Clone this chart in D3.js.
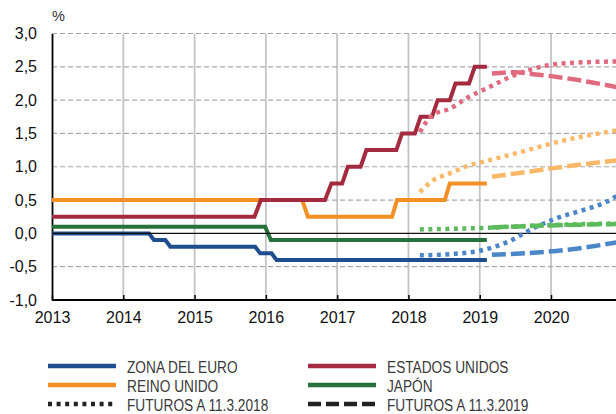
<!DOCTYPE html>
<html><head><meta charset="utf-8">
<script src="https://cdn.jsdelivr.net/npm/d3@7"></script>
<style>
html,body{margin:0;padding:0;background:#fff;}
svg{display:block;}
</style></head>
<body>
<svg id="c" width="616" height="414"></svg>
<script>
// ---- data (decimal years, %) ----
const xTicks = [2013, 2014, 2015, 2016, 2017, 2018, 2019, 2020];
const yTicks = [-1.0, -0.5, 0.0, 0.5, 1.0, 1.5, 2.0, 2.5, 3.0];

const zonaEuro = [[2013,0],[2014.36,0],[2014.43,-0.1],[2014.59,-0.1],[2014.66,-0.2],[2015.85,-0.2],[2015.92,-0.3],[2016.08,-0.3],[2016.15,-0.4],[2019.10,-0.4]];
const estadosUnidos = [[2013,0.25],[2015.84,0.25],[2015.93,0.5],[2016.83,0.5],[2016.92,0.75],[2017.07,0.75],[2017.15,1.0],[2017.33,1.0],[2017.41,1.25],[2017.83,1.25],[2017.91,1.5],[2018.09,1.5],[2018.17,1.75],[2018.33,1.75],[2018.41,2.0],[2018.58,2.0],[2018.66,2.25],[2018.85,2.25],[2018.93,2.5],[2019.10,2.5]];
const reinoUnido = [[2013,0.5],[2016.51,0.5],[2016.59,0.25],[2017.77,0.25],[2017.84,0.5],[2018.51,0.5],[2018.58,0.75],[2019.10,0.75]];
const japon = [[2013,0.1],[2015.99,0.1],[2016.07,-0.1],[2019.10,-0.1]];

const euroF18 = [[2018.16,-0.33],[2018.6,-0.31],[2019.0,-0.26],[2019.4,-0.125],[2019.75,0.075],[2020.07,0.225],[2020.45,0.35],[2020.78,0.475],[2020.95,0.58]];
const usF18 = [[2018.16,1.52],[2018.33,1.77],[2018.6,1.88],[2018.8,2.02],[2019.1,2.18],[2019.5,2.38],[2020.0,2.53],[2020.5,2.57],[2020.95,2.58]];
const ukF18 = [[2018.16,0.62],[2018.35,0.8],[2018.58,0.9],[2018.8,1.0],[2019.14,1.1],[2019.5,1.2],[2020.2,1.4],[2020.95,1.55]];
const jpF18 = [[2018.16,0.06],[2019.0,0.08],[2020.0,0.125],[2020.95,0.15]];

const euroF19 = [[2019.17,-0.32],[2019.75,-0.29],[2020.2,-0.25],[2020.95,-0.13]];
const usF19 = [[2019.17,2.40],[2019.5,2.42],[2019.75,2.39],[2020.0,2.36],[2020.5,2.28],[2020.95,2.19]];
const ukF19 = [[2019.17,0.85],[2019.71,0.93],[2020.18,1.0],[2020.95,1.10]];
const jpF19 = [[2019.17,0.09],[2020.0,0.12],[2020.95,0.14]];

const legendLabels = ["ZONA DEL EURO","ESTADOS UNIDOS","REINO UNIDO","JAPÓN","FUTUROS A 11.3.2018","FUTUROS A 11.3.2019"];

// ---- drawing ----
const C = {eu:"#1f4e8f", us:"#a32a3f", uk:"#f39025", jp:"#27703b",
           euL:"#4a86c8", usL:"#e06b7f", ukL:"#fbb867", jpL:"#5cba5c"};
const svg = d3.select("#c");
const L = 52, T = 33.5, B = 300, W = 616;
const x = d3.scaleLinear().domain([2013, 2021]).range([L, L + 8*71.29]);
const y = d3.scaleLinear().domain([-1, 3]).range([B, T]);

// vertical grid
svg.append("g").selectAll("line").data(xTicks.slice(1)).join("line")
  .attr("x1", d=>x(d)).attr("x2", d=>x(d)).attr("y1", T).attr("y2", B)
  .attr("stroke", "#c4c4c4").attr("stroke-width", 1.8);
// horizontal dashed grid
svg.append("g").selectAll("line").data(yTicks.filter(v=>v!==0 && v!==-1)).join("line")
  .attr("x1", L).attr("x2", W).attr("y1", d=>y(d)).attr("y2", d=>y(d))
  .attr("stroke", "#a8a8a8").attr("stroke-width", 1.2).attr("stroke-dasharray", "5,3");

// axes
const yAxis = d3.axisLeft(y).tickValues(yTicks).tickSize(0).tickPadding(15)
  .tickFormat(d => d3.format(".1f")(d).replace(".", ",").replace("−","-"));
const gy = svg.append("g").attr("transform", `translate(${L},0)`).call(yAxis);
gy.select(".domain").attr("stroke", "#000").attr("stroke-width", 1.8);
gy.selectAll("text").attr("font-family", "Liberation Sans, Arial, sans-serif").attr("font-size", 16).attr("fill", "#111");

const xAxis = d3.axisBottom(x).tickValues(xTicks).tickSize(-5).tickPadding(12).tickFormat(d3.format("d"));
const gx = svg.append("g").attr("transform", `translate(0,${B})`).call(xAxis);
gx.select(".domain").remove();
gx.append("line").attr("x1", L).attr("x2", W).attr("stroke", "#000").attr("stroke-width", 1.8);
gx.selectAll(".tick line").attr("stroke", "#000").attr("stroke-width", 1.5);
gx.selectAll("text").attr("font-family", "Liberation Sans, Arial, sans-serif").attr("font-size", 16).attr("fill", "#111");

svg.append("text").attr("x", 52).attr("y", 21).text("%")
  .attr("font-family", "Liberation Sans, Arial, sans-serif").attr("font-size", 14.5).attr("fill", "#333");

const lin = d3.line().x(d=>x(d[0])).y(d=>y(d[1]));
const smooth = d3.line().x(d=>x(d[0])).y(d=>y(d[1])).curve(d3.curveMonotoneX);

// actual series
[[reinoUnido, C.uk],[estadosUnidos, C.us],[japon, C.jp],[zonaEuro, C.eu]].forEach(([data, col]) => {
  svg.append("path").attr("d", lin(data)).attr("fill", "none").attr("stroke", col)
    .attr("stroke-width", 4).attr("stroke-linejoin", "miter");
});

// zero line
svg.append("line").attr("x1", L).attr("x2", W).attr("y1", y(0)).attr("y2", y(0))
  .attr("stroke", "#111").attr("stroke-width", 1.3);

// futures
const DOT = "4,4.5", DASH = "14,5";
[[ukF18, C.ukL, DOT],[usF18, C.usL, DOT],[jpF18, C.jpL, DOT],[euroF18, C.euL, DOT],
 [ukF19, C.ukL, DASH],[usF19, C.usL, DASH],[jpF19, C.jpL, DASH],[euroF19, C.euL, DASH]].forEach(([data, col, da]) => {
  svg.append("path").attr("d", smooth(data)).attr("fill", "none").attr("stroke", col)
    .attr("stroke-width", 4.5).attr("stroke-dasharray", da);
});

// legend
const leg = [
  {t: legendLabels[0], c: C.eu, da: null, col: 0, row: 0},
  {t: legendLabels[1], c: C.us, da: null, col: 1, row: 0},
  {t: legendLabels[2], c: C.uk, da: null, col: 0, row: 1},
  {t: legendLabels[3], c: C.jp, da: null, col: 1, row: 1},
  {t: legendLabels[4], c: "#222", da: "4,4.6", col: 0, row: 2},
  {t: legendLabels[5], c: "#222", da: "13,5", col: 1, row: 2},
];
const colX = [48, 308], rowY = [366, 385, 404];
const lg = svg.append("g").selectAll("g").data(leg).join("g")
  .attr("transform", d => `translate(${colX[d.col]},${rowY[d.row]})`);
lg.append("line").attr("x1", 0).attr("x2", 68).attr("stroke", d=>d.c)
  .attr("stroke-width", 4.5).attr("stroke-dasharray", d=>d.da);
lg.append("text").attr("transform", "translate(79,6.5) scale(0.83,1)").text(d=>d.t)
  .attr("font-family", "Liberation Sans, Arial, sans-serif")
  .attr("font-size", 16.5).attr("fill", "#3a3a3a");
</script>
</body></html>
